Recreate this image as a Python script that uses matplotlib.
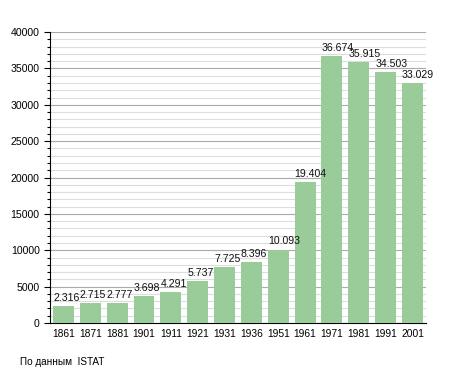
import matplotlib
matplotlib.use("Agg")
import matplotlib.pyplot as plt
from matplotlib.ticker import MultipleLocator

plt.rcParams['font.family'] = ['Liberation Sans', 'DejaVu Sans']

years = ["1861", "1871", "1881", "1901", "1911", "1921", "1931", "1936", "1951", "1961", "1971", "1981", "1991", "2001"]
population = [2316, 2715, 2777, 3698, 4291, 5737, 7725, 8396, 10093, 19404, 36674, 35915, 34503, 33029]
labels = ["2.316", "2.715", "2.777", "3.698", "4.291", "5.737", "7.725", "8.396", "10.093", "19.404", "36.674", "35.915", "34.503", "33.029"]
source = "По данным  ISTAT"

fig = plt.figure(figsize=(4.55, 3.73), dpi=100)
ax = fig.add_axes([0.11, 0.134, 0.826, 0.78])

x = list(range(len(years)))
w = 0.78
ax.bar(x, population, width=w, color="#99cc99", zorder=3)
for xi, v, lab in zip(x, population, labels):
    ax.text(xi - w / 2, v + 450, lab, ha="left", va="bottom", fontsize=7.6, color="#111111", zorder=4)

ax.set_xlim(-0.5, len(years) - 0.5)
ax.set_ylim(0, 40000)
ax.set_xticks(x)
ax.set_xticklabels(years, fontsize=7.4)
ax.yaxis.set_major_locator(MultipleLocator(5000))
ax.yaxis.set_minor_locator(MultipleLocator(1000))
ax.tick_params(axis="y", labelsize=7.6, length=4, width=0.8)
ax.tick_params(axis="y", which="minor", length=2.5, width=0.8)
ax.tick_params(axis="x", length=0, pad=4)
ax.grid(axis="y", which="major", color="#aaaaaa", linewidth=0.8, zorder=1)
ax.grid(axis="y", which="minor", color="#dddddd", linewidth=0.8, zorder=0)
for s in ["top", "right"]:
    ax.spines[s].set_visible(False)
ax.spines["left"].set_color("black")
ax.spines["bottom"].set_color("black")

fig.text(20 / 455, 1 - 362 / 373, source, fontsize=7.2, va="center", ha="left")

fig.savefig("out.png", dpi=100)
